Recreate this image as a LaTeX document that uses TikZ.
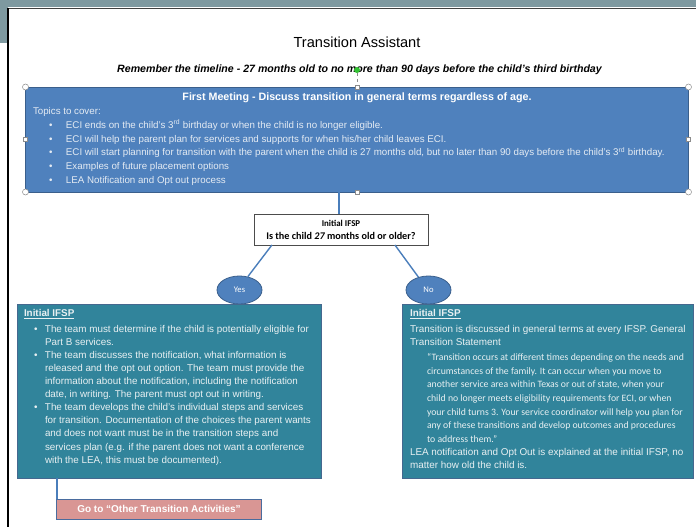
\documentclass[tikz,border=0pt]{standalone}
\usepackage{fontspec}
\setmainfont{Liberation Sans}
\newfontfamily\calfont{Carlito}
\usetikzlibrary{shapes.geometric,calc}
\definecolor{band}{HTML}{7E99A0}
\definecolor{meetfill}{HTML}{4F81BD}
\definecolor{meetdraw}{HTML}{3A5F8C}
\definecolor{tealfill}{HTML}{31849B}
\definecolor{tealdraw}{HTML}{45688F}
\definecolor{pinkfill}{HTML}{D99694}
\definecolor{pinkdraw}{HTML}{4A6C9E}
\definecolor{lighttext}{HTML}{E4EBF3}
\definecolor{tealtext}{HTML}{E8F0F2}
\definecolor{conncol}{HTML}{4A7EBB}
\definecolor{handle}{HTML}{8C8C8C}
\newcommand\bulcell[2]{\makebox[#1][l]{\hspace{#2}\textbullet}}
\begin{document}
\begin{tikzpicture}[x=1pt,y=-1pt,
  boxbase/.style={inner sep=0pt, outer sep=0pt, anchor=north west, line width=0.8pt},
  meetbox/.style={boxbase, fill=meetfill, draw=meetdraw},
  tealbox/.style={boxbase, fill=tealfill, draw=tealdraw, line width=1pt},
  pinkbox/.style={boxbase, fill=pinkfill, draw=pinkdraw, line width=1pt, text=white,
     font=\bfseries\fontsize{10}{11}\selectfont},
  qbox/.style={boxbase, fill=white, draw=black!70, line width=0.7pt, align=center,
     font=\calfont\bfseries\fontsize{10.2}{13}\selectfont},
  choice/.style={ellipse, fill=meetfill, draw=meetdraw, line width=0.8pt, inner sep=0pt,
     minimum width=45pt, minimum height=28pt, text=white, font=\calfont\fontsize{8.6}{9}\selectfont},
  conn/.style={draw=conncol, line width=1.4pt},
  txt/.style={inner sep=0pt, outer sep=0pt, anchor=base west},
  circhandle/.style={circle, draw=handle, fill=white, inner sep=0pt, minimum size=6pt, line width=0.5pt},
  sqhandle/.style={rectangle, draw=handle, fill=white, inner sep=0pt, minimum size=4pt, line width=0.5pt}
]
% page and frame
\useasboundingbox (0,0) rectangle (696,527);
\fill[white] (0,0) rectangle (696,527);
\fill[band] (0,0) rectangle (696,7.5);
\fill[band] (0,0) rectangle (8,43);
\draw[black!75, line width=0.6pt] (8,8) -- (696,8);
\draw[black, line width=1.4pt] (8,8) -- (8,527);

% titles
\node[txt, anchor=base, font=\fontsize{14.6}{16}\selectfont] (title) at (357,48) {Transition Assistant};
\node[txt, anchor=base, font=\bfseries\itshape\fontsize{10.6}{12}\selectfont] (subtitle) at (359.5,72.5)
  {Remember the timeline - 27 months old to no more than 90 days before the child’s third birthday};

% first meeting box
\node[meetbox, minimum width=663pt, minimum height=105pt] (meet) at (25.5,87) {};
\node[txt, anchor=base, text=white, font=\bfseries\fontsize{10.7}{12}\selectfont] (meettitle) at (357,100.5)
  {First Meeting - Discuss transition in general terms regardless of age.};
\node[txt, text=lighttext, font=\fontsize{9.75}{13.8}\selectfont] (meettext) at (33,114.5)
  {\begin{tabular}[t]{@{}l@{}l@{}}
  \multicolumn{2}{@{}l@{}}{Topics to cover:}\\
  \bulcell{33pt}{16pt} & ECI ends on the child’s 3\textsuperscript{rd} birthday or when the child is no longer eligible.\\
  \bulcell{33pt}{16pt} & ECI will help the parent plan for services and supports for when his/her child leaves ECI.\\
  \bulcell{33pt}{16pt} & ECI will start planning for transition with the parent when the child is 27 months old, but no later than 90 days before the child’s 3\textsuperscript{rd} birthday.\\
  \bulcell{33pt}{16pt} & Examples of future placement options\\
  \bulcell{33pt}{16pt} & LEA Notification and Opt out process
  \end{tabular}};

% selection handles
\draw[handle, dashed, line width=0.5pt] (357,73) -- (357,87);
\node[circle, fill=green!70!black!80, inner sep=0pt, minimum size=6pt] (rot) at (357,70) {};
\foreach \p in {(25.5,87),(688.5,87),(25.5,192),(688.5,192)} \node[circhandle] at \p {};
\foreach \p in {(357,87),(357,192),(25.5,139.5),(688.5,139.5)} \node[sqhandle] at \p {};

% question box
\node[qbox, minimum width=174pt, minimum height=31pt] (q) at (254,214)
  {{\fontsize{8.9}{13}\selectfont Initial IFSP}\\ Is the child {\itshape 27} months old or older?};

% choices
\node[choice] (yes) at (239.5,290) {Yes};
\node[choice] (no) at (428.5,290) {No};

% connectors
\draw[conn] (q.north) ++(-2,0) coordinate (qtop) -- (qtop |- meet.south);
\draw[conn] ($(q.south west)!0.103!(q.south east)$) -- (yes.58);
\draw[conn] ($(q.south west)!0.81!(q.south east)$) -- (no.128);

% left teal box
\node[tealbox, minimum width=304pt, minimum height=174pt] (lbox) at (17,304) {};
\node[txt, text=tealtext, font=\fontsize{9.85}{13.05}\selectfont] (ltext) at (24,316.5)
  {\begin{tabular}[t]{@{}l@{}l@{}}
  \multicolumn{2}{@{}l@{}}{\bfseries\underline{Initial IFSP}}\\[3pt]
  \bulcell{21pt}{10pt} & The team must determine if the child is potentially eligible for\\
  & Part B services.\\
  \bulcell{21pt}{10pt} & The team discusses the notification, what information is\\
  & released and the opt out option. The team must provide the\\
  & information about the notification, including the notification\\
  & date, in writing. The parent must opt out in writing.\\
  \bulcell{21pt}{10pt} & The team develops the child’s individual steps and services\\
  & for transition. Documentation of the choices the parent wants\\
  & and does not want must be in the transition steps and\\
  & services plan (e.g. if the parent does not want a conference\\
  & with the LEA, this must be documented).
  \end{tabular}};

% pink box
\node[pinkbox, minimum width=205pt, minimum height=20pt] (pink) at (56.5,499) {Go to “Other Transition Activities”};
\draw[conn, line width=1.2pt] ($(lbox.south west)+(40,0)$) -- ($(pink.north west)+(0.5,0)$);

% right teal box
\node[tealbox, minimum width=291pt, minimum height=174pt] (rbox) at (402.5,304) {};
\node[txt, text=tealtext, font=\fontsize{9.9}{13}\selectfont] (rtext1) at (410,316.5)
  {\begin{tabular}[t]{@{}l@{}}
  \bfseries\underline{Initial IFSP}\\[3pt]
  Transition is discussed in general terms at every IFSP. General\\
  Transition Statement
  \end{tabular}};
\node[txt, text=tealtext, font=\calfont\fontsize{9.75}{13.67}\selectfont] (rquote) at (427,360.5)
  {\begin{tabular}[t]{@{}l@{}}
  “Transition occurs at different times depending on the needs and\\
  circumstances of the family. It can occur when you move to\\
  another service area within Texas or out of state, when your\\
  child no longer meets eligibility requirements for ECI, or when\\
  your child turns 3. Your service coordinator will help you plan for\\
  any of these transitions and develop outcomes and procedures\\
  to address them.”
  \end{tabular}};
\node[txt, text=tealtext, font=\fontsize{9.9}{13}\selectfont] (rtext2) at (410,455.5)
  {\begin{tabular}[t]{@{}l@{}}
  LEA notification and Opt Out is explained at the initial IFSP, no\\
  matter how old the child is.
  \end{tabular}};
\end{tikzpicture}
\end{document}
